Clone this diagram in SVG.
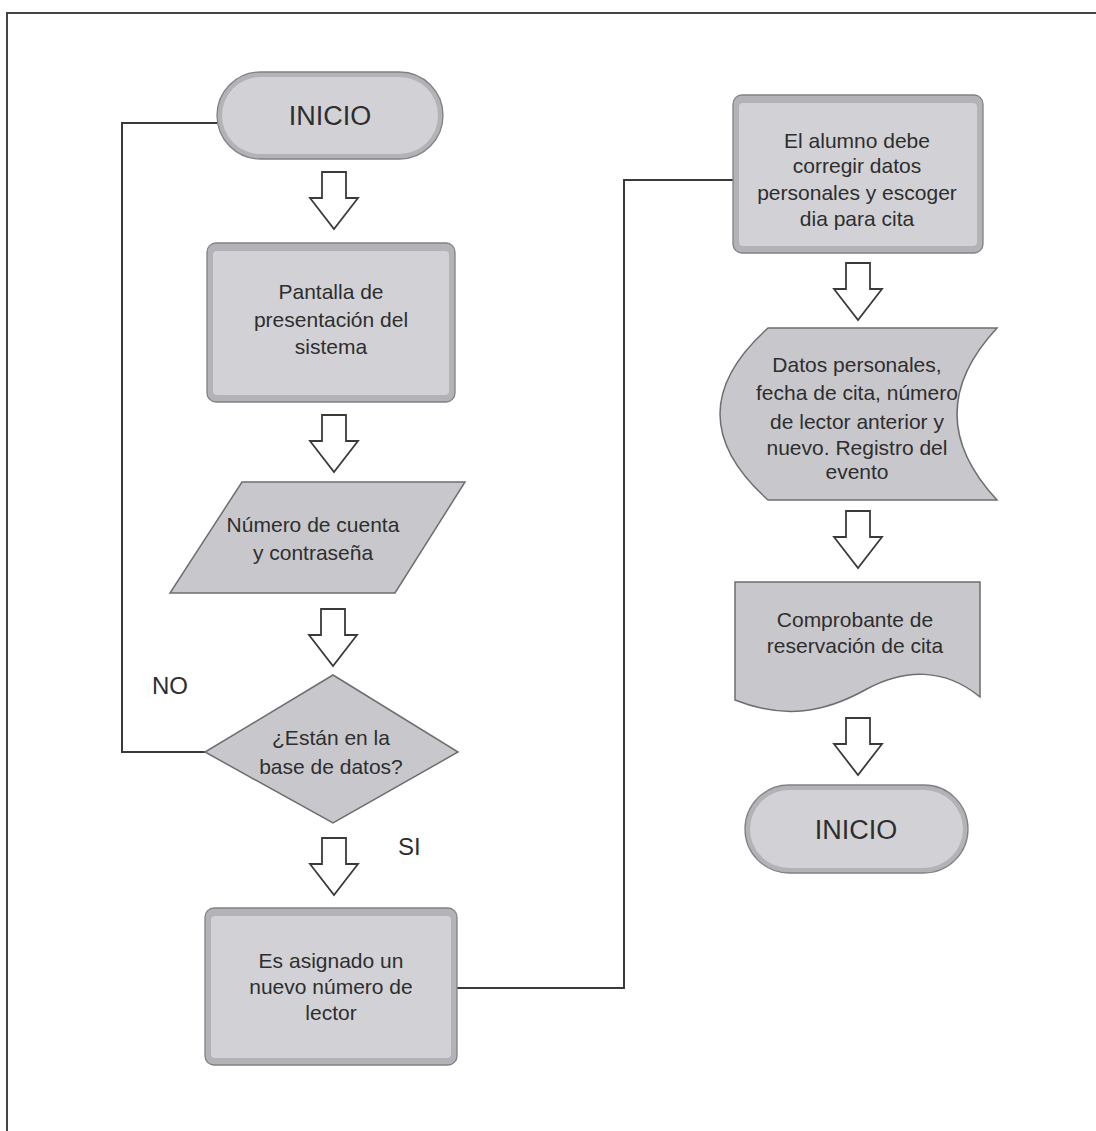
<svg xmlns="http://www.w3.org/2000/svg" width="1096" height="1131" viewBox="0 0 1096 1131">
<style>
.frame{stroke:#444;stroke-width:2;fill:none}
.conn{stroke:#3a3a3a;stroke-width:2;fill:none}
.outer{fill:#b3b3b7;stroke:#818185;stroke-width:1.3}
.inner{fill:#d2d2d6}
.flat{fill:#c8c8cc;stroke:#6e6e72;stroke-width:1.5}
.arrow{fill:#fff;stroke:#3a3a3a;stroke-width:1.8;stroke-linejoin:miter}
.t{font-family:"Liberation Sans",Arial,sans-serif;font-size:21px;fill:#2e2e2e;text-anchor:middle}
.big{font-size:27px}
.lbl{font-family:"Liberation Sans",Arial,sans-serif;font-size:24px;fill:#2e2e2e}
</style>
<defs>
<path id="blk" d="M-12,0 H12 V26 H24 L0,57 L-24,26 H-12 Z"/>
</defs>
<rect width="1096" height="1131" fill="#fff"/>
<path class="frame" d="M7,1131 V13 H1096"/>

<g id="connectors">
<path class="conn" d="M220,123 H122 V752 H205"/>
<path class="conn" d="M457,988 H624 V180 H733"/>
<use href="#blk" class="arrow" x="334" y="172"/>
<use href="#blk" class="arrow" x="334" y="415"/>
<use href="#blk" class="arrow" x="333" y="609"/>
<use href="#blk" class="arrow" x="334" y="838"/>
<use href="#blk" class="arrow" x="858" y="263"/>
<use href="#blk" class="arrow" x="858" y="511"/>
<use href="#blk" class="arrow" x="858" y="718"/>
</g>

<g id="inicio1">
<rect class="outer" x="217" y="72" width="226" height="87" rx="43.5"/>
<rect class="inner" x="222" y="77" width="216" height="77" rx="38.5"/>
<text class="t big" x="330" y="125">INICIO</text>
</g>

<g id="pantalla">
<rect class="outer" x="207" y="243" width="248" height="159" rx="9"/>
<rect class="inner" x="213" y="251" width="236" height="144" rx="4"/>
<text class="t" x="331" y="299">Pantalla de</text>
<text class="t" x="331" y="327">presentación del</text>
<text class="t" x="331" y="354">sistema</text>
</g>

<g id="cuenta">
<polygon class="flat" points="242,482 465,482 395,593 170,593"/>
<text class="t" x="313" y="532">Número de cuenta</text>
<text class="t" x="313" y="560">y contraseña</text>
</g>

<g id="decision">
<polygon class="flat" points="333,675 458,752 333,823 205,752"/>
<text class="t" x="331" y="745">¿Están en la</text>
<text class="t" x="331" y="774">base de datos?</text>
</g>

<text class="lbl" x="152" y="694">NO</text>
<text class="lbl" x="398" y="855">SI</text>

<g id="asignado">
<rect class="outer" x="205" y="908" width="252" height="157" rx="9"/>
<rect class="inner" x="211" y="916" width="240" height="142" rx="4"/>
<text class="t" x="331" y="968">Es asignado un</text>
<text class="t" x="331" y="994">nuevo número de</text>
<text class="t" x="331" y="1020">lector</text>
</g>

<g id="alumno">
<rect class="outer" x="733" y="95" width="250" height="158" rx="9"/>
<rect class="inner" x="739" y="103" width="238" height="143" rx="4"/>
<text class="t" x="857" y="148">El alumno debe</text>
<text class="t" x="857" y="173">corregir datos</text>
<text class="t" x="857" y="200">personales y escoger</text>
<text class="t" x="857" y="226">dia para cita</text>
</g>

<g id="datos">
<path class="flat" d="M768,328 H997 Q917,414 997,500 H768 Q672,414 768,328 Z"/>
<text class="t" x="857" y="372">Datos personales,</text>
<text class="t" x="857" y="400">fecha de cita, número</text>
<text class="t" x="857" y="429">de lector anterior y</text>
<text class="t" x="857" y="455">nuevo. Registro del</text>
<text class="t" x="857" y="479">evento</text>
</g>

<g id="comprobante">
<path class="flat" d="M735,582 H980 V697 C945,668 905,668 865,690 C825,712 785,720 735,700 Z"/>
<text class="t" x="855" y="627">Comprobante de</text>
<text class="t" x="855" y="653">reservación de cita</text>
</g>

<g id="inicio2">
<rect class="outer" x="745" y="785" width="223" height="88" rx="44"/>
<rect class="inner" x="750" y="790" width="213" height="78" rx="39"/>
<text class="t big" x="856" y="839">INICIO</text>
</g>
</svg>
